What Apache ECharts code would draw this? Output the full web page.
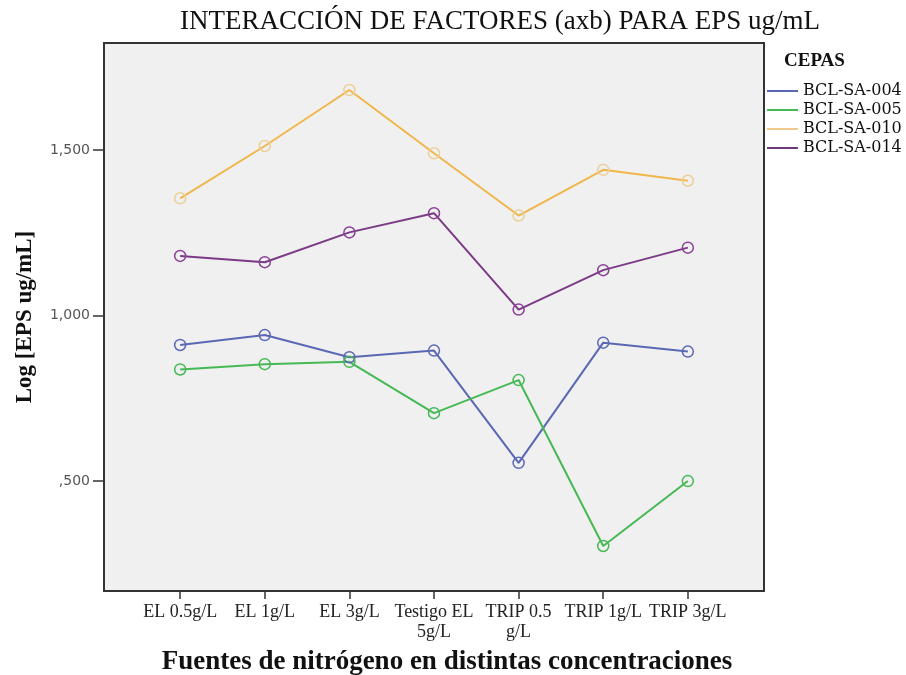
<!DOCTYPE html>
<html>
<head>
<meta charset="utf-8">
<script src="https://cdn.jsdelivr.net/npm/echarts@6/dist/echarts.min.js"></script>
<style>
html,body{margin:0;padding:0;background:#ffffff;}
#chart{width:906px;height:675px;}
</style>
</head>
<body>
<div id="chart"></div>
<script>
var categories = ["EL 0.5g/L", "EL 1g/L", "EL 3g/L", "Testigo EL\n5g/L", "TRIP 0.5\ng/L", "TRIP 1g/L", "TRIP 3g/L"];
var seriesNames = ["BCL-SA-004", "BCL-SA-005", "BCL-SA-010", "BCL-SA-014"];
var bcl004 = [0.911, 0.941, 0.874, 0.894, 0.555, 0.918, 0.891];
var bcl005 = [0.837, 0.853, 0.860, 0.705, 0.805, 0.304, 0.500];
var bcl010 = [1.354, 1.512, 1.681, 1.490, 1.302, 1.440, 1.407];
var bcl014 = [1.180, 1.161, 1.251, 1.309, 1.018, 1.137, 1.205];
var yTicks = [0.5, 1.0, 1.5];
var colors = ["#5a68b4", "#46b955", "#f0b64a", "#7b3a86"];
var markerColors = ["#5a68b4", "#46b955", "#ecd098", "#8a3f95"];
var legendColors = ["#5a68b4", "#46b955", "#f2c98c", "#6e3a7c"];

var allValues = [bcl004, bcl005, bcl010, bcl014];
var catIdx = categories.map(function (c, i) { return i; });

function fmtY(v) {
  var s = v.toFixed(3).replace('.', ',');
  if (s.indexOf('0,') === 0) s = s.substring(1);
  return s;
}

var series = seriesNames.map(function (name, k) {
  return {
    name: name,
    type: 'line',
    data: allValues[k].map(function (v, i) { return [i, v]; }),
    symbol: 'circle',
    symbolSize: 11,
    showAllSymbol: true,
    lineStyle: { color: colors[k], width: 2 },
    itemStyle: { color: 'rgba(0,0,0,0)', borderColor: markerColors[k], borderWidth: 1.5 },
    emphasis: { disabled: true },
    animation: false,
    z: 3
  };
});

var chart = echarts.init(document.getElementById('chart'), null, { renderer: 'canvas' });
chart.setOption({
  backgroundColor: '#ffffff',
  animation: false,
  title: [
    {
      text: 'INTERACCIÓN DE FACTORES (axb) PARA EPS ug/mL',
      left: 180, top: 8, padding: 0,
      textStyle: { fontFamily: 'Liberation Serif', fontSize: 27, fontWeight: 'normal', color: '#111' }
    },
    {
      text: 'CEPAS',
      left: 784, top: 52, padding: 0,
      textStyle: { fontFamily: 'Liberation Serif', fontSize: 19, fontWeight: 'bold', color: '#111' }
    }
  ],
  legend: {
    orient: 'vertical',
    left: 767, top: 83, padding: 0,
    icon: 'rect',
    itemWidth: 31, itemHeight: 2,
    itemGap: 3,
    data: seriesNames.map(function (n, k) {
      return { name: n, itemStyle: { color: legendColors[k], borderWidth: 0 } };
    }),
    textStyle: { fontFamily: 'DejaVu Serif', fontSize: 16, color: '#111', lineHeight: 16 }
  },
  grid: {
    left: 104, right: 142, top: 43, bottom: 84,
    containLabel: false, outerBoundsMode: 'none',
    show: true, backgroundColor: '#f0f0f0', borderColor: '#333', borderWidth: 2
  },
  xAxis: {
    type: 'value',
    min: -0.9, max: 6.9,
    name: 'Fuentes de nitrógeno en distintas concentraciones',
    nameLocation: 'middle', nameGap: 58,
    nameTextStyle: { fontFamily: 'Liberation Serif', fontSize: 27, fontWeight: 'bold', color: '#111', padding: [0, 0, 0, 26] },
    axisLine: { show: true, onZero: false, lineStyle: { color: '#333', width: 2 } },
    axisTick: { show: true, length: 8, customValues: catIdx, lineStyle: { color: '#333', width: 1.5 } },
    axisLabel: {
      customValues: catIdx,
      formatter: function (v) { return categories[Math.round(v)]; },
      fontFamily: 'Liberation Serif', fontSize: 18, color: '#222', margin: 11, lineHeight: 20
    },
    splitLine: { show: false }
  },
  yAxis: {
    type: 'value',
    min: 0.168, max: 1.823,
    name: 'Log [EPS ug/mL]',
    nameLocation: 'middle', nameGap: 67,
    nameTextStyle: { fontFamily: 'Liberation Serif', fontSize: 23, fontWeight: 'bold', color: '#111' },
    axisLine: { show: true, onZero: false, lineStyle: { color: '#333', width: 2 } },
    axisTick: { show: true, length: 11, customValues: yTicks, lineStyle: { color: '#333', width: 1.5 } },
    axisLabel: {
      customValues: yTicks,
      formatter: fmtY,
      fontFamily: 'DejaVu Sans', fontSize: 14, color: '#555', margin: 14
    },
    splitLine: { show: false }
  },
  series: series
});
</script>
</body>
</html>
